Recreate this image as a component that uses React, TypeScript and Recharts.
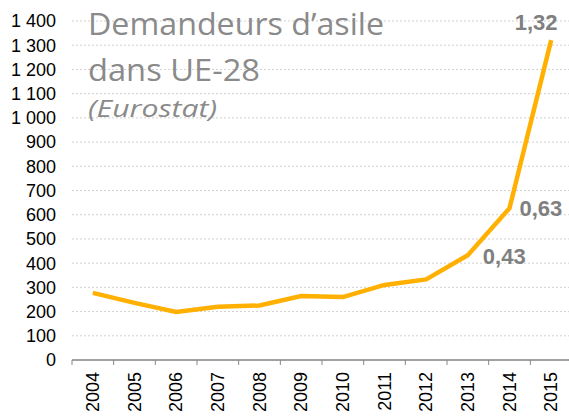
import React from "react";
import { LineChart, Line, XAxis, YAxis, CartesianGrid, LabelList } from "recharts";

const years = ["2004", "2005", "2006", "2007", "2008", "2009", "2010", "2011", "2012", "2013", "2014", "2015"];
const asylumSeekers = [277, 236, 198, 220, 225, 264, 260, 310, 333, 433, 627, 1321];
const valueLabels = ["", "", "", "", "", "", "", "", "", "0,43", "0,63", "1,32"];
const yTicks = [0, 100, 200, 300, 400, 500, 600, 700, 800, 900, 1000, 1100, 1200, 1300, 1400];
const titleLines = ["Demandeurs d\u2019asile", "dans UE-28"];
const sourceText = "(Eurostat)";

const data = years.map((y, i) => ({ i, year: y, value: asylumSeekers[i], label: valueLabels[i] }));

const CHART_W = 580;
const CHART_H = 417;
const MARGIN = { top: 21, right: 8, bottom: 0, left: 0 };
const Y_W = 72;
const PLOT_W = CHART_W - MARGIN.left - MARGIN.right - Y_W;
const UNIT = PLOT_W / years.length;

const fmtY = (v: number) => {
  const s = String(v);
  return s.length > 3 ? s.slice(0, s.length - 3) + " " + s.slice(-3) : s;
};

const XTick = (props: any) => {
  const { x, y, payload, index } = props;
  const half = UNIT / 2;
  return (
    <g>
      <line x1={x - half} y1={y} x2={x - half} y2={y + 5} stroke="#868686" strokeWidth={1} />
      {index === years.length - 1 && (
        <line x1={x + half} y1={y} x2={x + half} y2={y + 5} stroke="#868686" strokeWidth={1} />
      )}
      <text
        x={x}
        y={y + 12}
        transform={`rotate(-90, ${x}, ${y + 12})`}
        textAnchor="end"
        dominantBaseline="central"
        fontFamily="'Liberation Sans', Arial, sans-serif"
        fontSize={18}
        fill="#000"
      >
        {years[payload.value]}
      </text>
    </g>
  );
};

const ValueLabel = (props: any) => {
  const { x, y, value, index } = props;
  if (!value) return null;
  let tx = x;
  let ty = y;
  let anchor: "start" | "middle" | "end" = "start";
  if (index === years.length - 1) {
    tx = x - 15;
    ty = y - 18;
    anchor = "middle";
  } else if (index === years.length - 2) {
    tx = x + 10;
    ty = y;
  } else {
    tx = x + 15;
    ty = y + 1;
  }
  return (
    <text
      x={tx}
      y={ty}
      textAnchor={anchor}
      dominantBaseline="central"
      fontFamily="'Liberation Sans', Arial, sans-serif"
      fontWeight="bold"
      fontSize={22}
      fill="#7f7f7f"
    >
      {value}
    </text>
  );
};

export default function App() {
  return (
    <div style={{ position: "absolute", left: 0, top: 0, width: 569, height: 417, overflow: "hidden", background: "#fff" }}>
      <LineChart width={CHART_W} height={CHART_H} data={data} margin={MARGIN}>
        <CartesianGrid vertical={false} stroke="#d0d0d0" strokeDasharray="2 2" />
        <XAxis
          dataKey="i"
          type="number"
          domain={[-0.5, years.length - 0.5]}
          ticks={years.map((_, i) => i)}
          interval={0}
          height={57}
          axisLine={{ stroke: "#868686", strokeWidth: 1.5 }}
          tickLine={false}
          tickSize={0}
          tickMargin={0}
          tick={<XTick />}
        />
        <YAxis
          width={Y_W}
          domain={[0, 1400]}
          ticks={yTicks}
          interval={0}
          axisLine={false}
          tickLine={false}
          tickSize={0}
          tickMargin={16}
          tickFormatter={fmtY}
          tick={{ fontFamily: "'Liberation Sans', Arial, sans-serif", fontSize: 18, fill: "#000" }}
        />
        <Line
          type="linear"
          dataKey="value"
          stroke="#FFB000"
          strokeWidth={4.5}
          dot={false}
          activeDot={false}
          isAnimationActive={false}
        >
          <LabelList dataKey="label" content={<ValueLabel />} />
        </Line>
      </LineChart>
      <svg width={569} height={417} style={{ position: "absolute", left: 0, top: 0, pointerEvents: "none" }}>
        <text x={88} y={35} fontFamily="'Open Sans', Lato, sans-serif" fontSize={31} fill="#8a8a8a" textLength={296} lengthAdjust="spacingAndGlyphs">
          {titleLines[0]}
        </text>
        <text x={88} y={81} fontFamily="'Open Sans', Lato, sans-serif" fontSize={31} fill="#8a8a8a" textLength={172} lengthAdjust="spacingAndGlyphs">
          {titleLines[1]}
        </text>
        <text x={88} y={117} fontFamily="'Open Sans', Lato, sans-serif" fontStyle="italic" fontSize={23} fill="#8a8a8a" textLength={129} lengthAdjust="spacingAndGlyphs">
          {sourceText}
        </text>
      </svg>
    </div>
  );
}
